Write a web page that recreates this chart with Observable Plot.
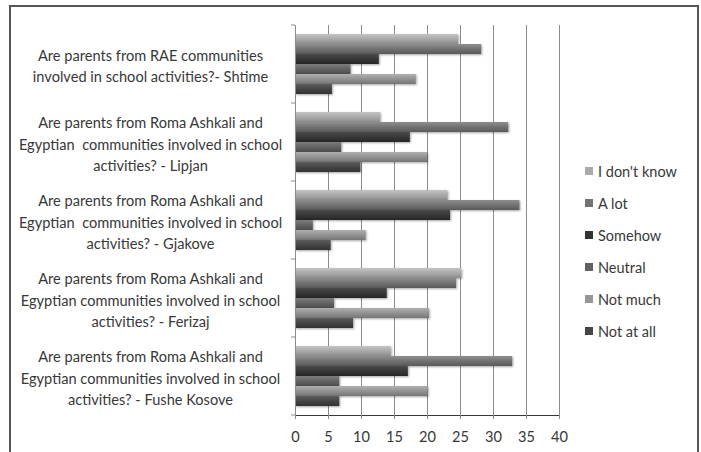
<!DOCTYPE html>
<html>
<head>
<meta charset="utf-8">
<script src="https://cdn.jsdelivr.net/npm/d3@7"></script>
<script src="https://cdn.jsdelivr.net/npm/@observablehq/plot@0.6"></script>
<style>
  html, body { margin: 0; padding: 0; background: #fff; }
  #wrap { position: relative; width: 701px; height: 452px; overflow: hidden; font-family: Lato, "Open Sans", sans-serif; }
  #border { position: absolute; left: 9px; top: 5px; width: 690px; height: 470px; border: 2px solid #555; box-sizing: border-box; }
  #chart { position: absolute; left: 0; top: 0; }
  #legend { position: absolute; left: 585px; top: 0; font-size: 14.5px; color: #383838; }
  .item { position: absolute; left: 0; white-space: nowrap; display: flex; align-items: center; height: 16px; }
  .sw { width: 8px; height: 8px; margin-right: 5px; }
  g[aria-label="bar"] rect { filter: drop-shadow(1.5px 1.5px 1px rgba(0,0,0,0.35)); }
</style>
</head>
<body>
<div id="wrap">
  <div id="border"></div>
  <div id="chart"></div>
  <div id="legend"></div>
</div>
<script>
const groups = ["Shtime", "Lipjan", "Gjakove", "Ferizaj", "Fushe Kosove"];
const groupLabels = [
  "Are parents from RAE communities\ninvolved in school activities?- Shtime",
  "Are parents from Roma Ashkali and\nEgyptian  communities involved in school\nactivities? - Lipjan",
  "Are parents from Roma Ashkali and\nEgyptian  communities involved in school\nactivities? - Gjakove",
  "Are parents from Roma Ashkali and\nEgyptian communities involved in school\nactivities? - Ferizaj",
  "Are parents from Roma Ashkali and\nEgyptian communities involved in school\nactivities? - Fushe Kosove"
];
const series = ["I don't know", "A lot", "Somehow", "Neutral", "Not much", "Not at all"];
const iDontKnow = [24.7, 12.9, 23.1, 25.2, 14.5];
const aLot      = [28.2, 32.3, 34.0, 24.4, 32.9];
const somehow   = [12.7, 17.4, 23.5, 13.9, 17.1];
const neutral   = [8.4, 7.0, 2.7, 5.9, 6.7];
const notMuch   = [18.3, 20.0, 10.7, 20.3, 20.1];
const notAtAll  = [5.6, 9.9, 5.4, 8.8, 6.7];
const xTicks = [0, 5, 10, 15, 20, 25, 30, 35, 40];

const seriesValues = [iDontKnow, aLot, somehow, neutral, notMuch, notAtAll];
const gradStops = [
  ["#c4c4c4", "#a9a9a9", "#8e8e8e"],
  ["#8f8f8f", "#727272", "#5a5a5a"],
  ["#4a4a4a", "#383838", "#262626"],
  ["#7d7d7d", "#636363", "#4c4c4c"],
  ["#b0b0b0", "#929292", "#767676"],
  ["#5c5c5c", "#454545", "#323232"]
];
const swatchColors = ["#ababab", "#747474", "#333333", "#626262", "#969696", "#454545"];

const rows = [];
groups.forEach((g, gi) => {
  series.forEach((s, si) => {
    rows.push({group: g, series: s, value: seriesValues[si][gi]});
  });
});
const labelOf = new Map(groups.map((g, i) => [g, groupLabels[i]]));

const plot = Plot.plot({
  width: 701,
  height: 452,
  marginLeft: 295,
  marginRight: 142,
  marginTop: 23,
  marginBottom: 36,
  style: {fontFamily: "Lato, 'Open Sans', sans-serif", fontSize: "14.6px", color: "#383838", background: "transparent"},
  x: {domain: [0, 40], ticks: xTicks, tickSize: 4, tickPadding: 12, line: true, label: null},
  y: {domain: series, padding: 0, insetTop: 8, insetBottom: 8.5, axis: null},
  fy: {domain: groups, padding: 0, label: null},
  color: {type: "ordinal", domain: series, range: series.map((s, i) => `url(#grad${i})`)},
  marks: [
    Plot.gridX(xTicks.filter(d => d > 0), {stroke: "#8c8c8c", strokeOpacity: 1, strokeWidth: 1}),
    Plot.barX(rows, {x: "value", y: "series", fy: "group", fill: "series"}),
    Plot.ruleX([0], {stroke: "#8c8c8c"}),
    Plot.axisFy({anchor: "left", tickSize: 0, tickPadding: 0, textAnchor: "middle", dx: -145, lineHeight: 1.5, fontSize: 14.6, tickFormat: d => labelOf.get(d), label: null, fill: "#383838"})
  ]
});

const svg = d3.select(plot);
const defs = svg.insert("defs", ":first-child");
gradStops.forEach((stops, i) => {
  const lg = defs.append("linearGradient").attr("id", `grad${i}`).attr("x1", 0).attr("y1", 0).attr("x2", 0).attr("y2", 1);
  stops.forEach((c, k) => lg.append("stop").attr("offset", k / (stops.length - 1)).attr("stop-color", c));
});
svg.selectAll('g[aria-label="x-axis tick"] path, g[aria-label="x-axis line"] line, g[aria-label="x-axis line"] path').attr("stroke", "#8c8c8c");

// group boundary tick marks on the category axis
const fy = plot.scale("fy");
const xs = plot.scale("x");
const x0 = xs.apply(0);
const bounds = [];
fy.domain.forEach(d => { bounds.push(fy.apply(d)); });
bounds.push(fy.apply(fy.domain[fy.domain.length - 1]) + fy.bandwidth);
svg.append("g").selectAll("line").data(bounds).join("line")
  .attr("x1", x0 - 4).attr("x2", x0).attr("y1", d => d).attr("y2", d => d)
  .attr("stroke", "#8c8c8c");

document.getElementById("chart").appendChild(plot);

const legend = document.getElementById("legend");
const legendTops = [171, 203, 235, 267, 299, 331];
series.forEach((s, i) => {
  const item = document.createElement("div");
  item.className = "item";
  item.style.top = (legendTops[i] - 8) + "px";
  const sw = document.createElement("span");
  sw.className = "sw";
  sw.style.background = swatchColors[i];
  const t = document.createElement("span");
  t.textContent = s;
  item.appendChild(sw);
  item.appendChild(t);
  legend.appendChild(item);
});
</script>
</body>
</html>
